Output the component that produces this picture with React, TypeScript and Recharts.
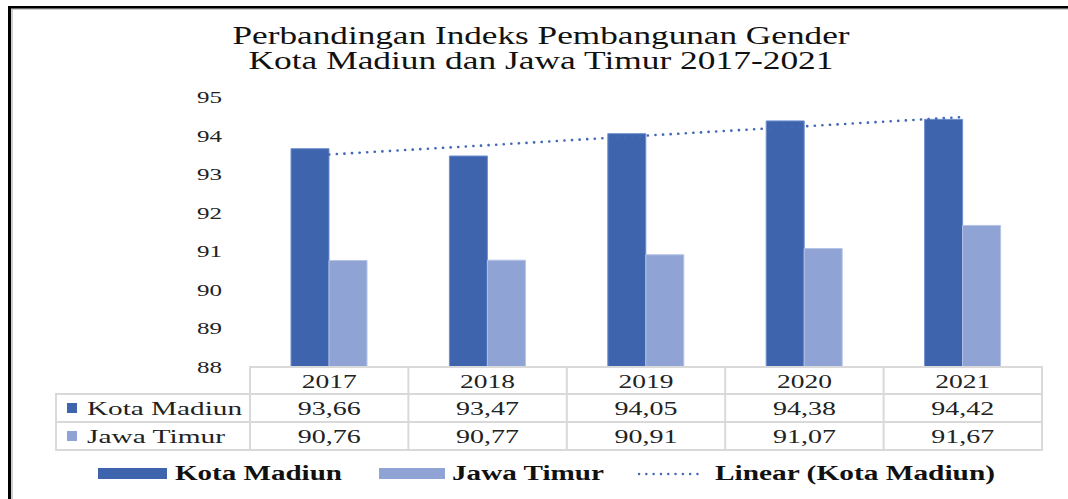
import React from 'react';
import { ComposedChart, Bar, Line, XAxis, YAxis } from 'recharts';

const years = ['2017', '2018', '2019', '2020', '2021'];
const kotaMadiun = [93.66, 93.47, 94.05, 94.38, 94.42];
const jawaTimur = [90.76, 90.77, 90.91, 91.07, 91.67];
// trendline at each year
const linearKota = [93.51, 93.75, 94.0, 94.24, 94.48];
const yTicks = [88, 89, 90, 91, 92, 93, 94, 95];
const seriesNames = ['Kota Madiun', 'Jawa Timur', 'Linear (Kota Madiun)'];
const titleLines = ['Perbandingan Indeks Pembangunan Gender', 'Kota Madiun dan Jawa Timur 2017-2021'];

const KOTA = '#3D64AC';
const JAWA = '#8FA3D4';
const TREND = '#4169B5';
const GRID = '#d9d9d9';
const SERIF = "'Liberation Serif', 'Times New Roman', serif";

const data = years.map((year, i) => ({
  year,
  kota: kotaMadiun[i],
  jawa: jawaTimur[i],
  linear: linearKota[i],
}));

const fmt = (v: number) => v.toFixed(2).replace('.', ',');

function YTick({ x, y, payload }: any) {
  return (
    <text x={x} y={y} dy={6} textAnchor="end" fontFamily={SERIF} fontSize={17} fill="#222"
      textLength={25} lengthAdjust="spacingAndGlyphs">
      {payload.value}
    </text>
  );
}

// year row plus the two value rows of the data table, one column per category
function TableTick({ x, y, payload, index }: any) {
  const common = { textAnchor: 'middle' as const, fontFamily: SERIF, fontSize: 19, fill: '#222', lengthAdjust: 'spacingAndGlyphs' };
  return (
    <g>
      <text x={x} y={y + 21} textLength={55} {...common}>{payload.value}</text>
      <text x={x} y={y + 48} textLength={63} {...common}>{fmt(kotaMadiun[index])}</text>
      <text x={x} y={y + 76} textLength={63} {...common}>{fmt(jawaTimur[index])}</text>
    </g>
  );
}

export default function App() {
  const left = 250;
  const right = 1042;
  const band = (right - left) / years.length;
  const cols = years.map((_, i) => left + band * (i + 1));

  return (
    <div style={{ position: 'absolute', left: 0, top: 0, width: 1068, height: 499, background: '#fff' }}>
      <ComposedChart width={1068} height={499} data={data}
        margin={{ top: 97, right: 26, bottom: 50, left: 190 }} barGap={0}>
        <XAxis dataKey="year" height={82} axisLine={false} tickLine={false} tickSize={0} tickMargin={0}
          interval={0} tick={<TableTick />} />
        <YAxis width={60} domain={[88, 95]} ticks={yTicks} axisLine={false} tickLine={false}
          tickMargin={22} tick={<YTick />} />
        <Bar dataKey="kota" name={seriesNames[0]} fill={KOTA} barSize={38} stroke="#6f8fd0" strokeWidth={1} isAnimationActive={false} />
        <Bar dataKey="jawa" name={seriesNames[1]} fill={JAWA} barSize={38} stroke="#b4c3e6" strokeWidth={1} isAnimationActive={false} />
        <Line type="linear" dataKey="linear" name={seriesNames[2]} stroke={TREND} strokeWidth={2.6}
          strokeDasharray="0.1 7.5" strokeLinecap="round" dot={false} activeDot={false} isAnimationActive={false} />
      </ComposedChart>

      <svg width={1068} height={499} style={{ position: 'absolute', left: 0, top: 0, pointerEvents: 'none' }}>
        {/* frame */}
        <rect x={8} y={8} width={1060} height={2} fill="#cfcfcf" />
        <rect x={11} y={8} width={2} height={491} fill="#cfcfcf" />
        <rect x={8} y={6} width={1060} height={2.5} fill="#000" />
        <rect x={8} y={6} width={3} height={493} fill="#000" />

        {/* title */}
        {titleLines.map((t, i) => (
          <text key={t} x={541} y={44 + i * 25} textAnchor="middle" fontFamily={SERIF} fontSize={25}
            fill="#111" textLength={i === 0 ? 617 : 585} lengthAdjust="spacingAndGlyphs">{t}</text>
        ))}

        {/* data table grid */}
        <g stroke={GRID} strokeWidth={2} fill="none">
          <line x1={left} y1={367} x2={right} y2={367} />
          <line x1={56} y1={394} x2={right} y2={394} />
          <line x1={56} y1={422} x2={right} y2={422} />
          <line x1={56} y1={450} x2={right} y2={450} />
          <line x1={56} y1={393} x2={56} y2={451} />
          <line x1={left} y1={366} x2={left} y2={451} />
          {cols.map((cx) => <line key={cx} x1={cx} y1={366} x2={cx} y2={451} />)}
        </g>
        <rect x={67} y={403} width={10} height={10} fill={KOTA} />
        <text x={87} y={415} fontFamily={SERIF} fontSize={19} fill="#222" textLength={155} lengthAdjust="spacingAndGlyphs">{seriesNames[0]}</text>
        <rect x={67} y={431} width={10} height={10} fill={JAWA} />
        <text x={87} y={443} fontFamily={SERIF} fontSize={19} fill="#222" textLength={138} lengthAdjust="spacingAndGlyphs">{seriesNames[1]}</text>

        {/* legend */}
        <rect x={98} y={468} width={69} height={11} fill={KOTA} />
        <text x={175} y={480} fontFamily={SERIF} fontWeight="bold" fontSize={20} fill="#111" textLength={167} lengthAdjust="spacingAndGlyphs">{seriesNames[0]}</text>
        <rect x={379} y={468} width={66} height={11} fill={JAWA} />
        <text x={452} y={480} fontFamily={SERIF} fontWeight="bold" fontSize={20} fill="#111" textLength={152} lengthAdjust="spacingAndGlyphs">{seriesNames[1]}</text>
        <line x1={639} y1={474} x2={704} y2={474} stroke={TREND} strokeWidth={2.4} strokeDasharray="0.1 7.2" strokeLinecap="round" />
        <text x={715} y={480} fontFamily={SERIF} fontWeight="bold" fontSize={20} fill="#111" textLength={280} lengthAdjust="spacingAndGlyphs">{seriesNames[2]}</text>
      </svg>
    </div>
  );
}
